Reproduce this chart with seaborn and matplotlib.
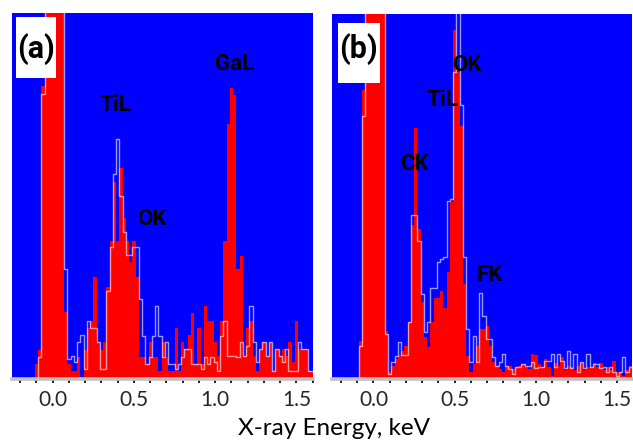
import numpy as np
import pandas as pd
import matplotlib
matplotlib.use("Agg")
import matplotlib.pyplot as plt
from matplotlib.patches import Rectangle
from matplotlib.ticker import MultipleLocator
import seaborn as sns

sns.set_style("white")
plt.rcParams['font.family'] = ['Lato', 'DejaVu Sans']

# ---------------- data (bin centres in keV, 0.02 keV channels) ----------------
energy_a = np.round(np.arange(-0.24, 1.6001, 0.02), 2)
energy_b = np.round(np.arange(-0.24, 1.5801, 0.02), 2)

# panel (a): red filled spectrum
red_a = [0, 0, 0, 0, 0, 0, 0,
         15, 29, 293, 900, 900, 900, 900, 900, 900,
         67, 15, 8, 8, 22, 2, 29, 51, 58, 102,
         37, 29, 37, 92, 138, 197, 138, 211, 161, 138,
         117, 138, 102, 22, 22, 15, 37, 22, 22, 8,
         37, 22, 8, 8, 51, 8, 37, 30, 44, 66,
         15, 51, 15, 73, 58, 58, 37, 23, 58, 138,
         255, 291, 284, 110, 123, 23, 51, 58, 23, 8,
         30, 37, 23, 37, 8, 30, 23, 30, 23, 37,
         17, 58, 30, 30, 30, 8, 8]
# panel (a): white outline spectrum
white_a = [0, 0, 0, 0, 0, 0, 0,
           0, 22, 285, 900, 900, 900, 900, 900, 900,
           110, 20, 23, 17, 37, 44, 10, 58, 51, 51,
           37, 10, 10, 88, 132, 205, 240, 183, 147, 124,
           124, 132, 132, 80, 43, 15, 22, 43, 73, 43,
           22, 37, 15, 15, 10, 15, 22, 30, 30, 15,
           15, 15, 10, 22, 15, 22, 17, 8, 43, 58,
           23, 23, 23, 22, 37, 23, 33, 73, 37, 17,
           30, 37, 23, 37, 8, 30, 23, 17, 30, 8,
           8, 8, 37, 30, 30, 8, 8]

# panel (b): red filled spectrum
red_b = [0, 0, 0, 0, 0, 0, 0,
         0, 38, 289, 900, 900, 900, 900, 900, 900,
         48, 7, 13, 20, 24, 28, 33, 57, 154, 251,
         150, 77, 42, 32, 57, 81, 81, 88, 71, 107,
         177, 349, 307, 253, 95, 23, 7, 15, 33, 50,
         50, 53, 33, 17, 13, 10, 7, 13, 13, 10,
         12, 13, 15, 12, 10, 25, 24, 15, 12, 20,
         12, 3, 16, 13, 22, 9, 13, 12, 9, 13,
         16, 9, 12, 12, 16, 12, 16, 9, 12, 9,
         18, 7, 7, 3, 9, 13]
# panel (b): white outline spectrum
white_b = [0, 0, 0, 0, 0, 0, 0,
           0, 33, 263, 900, 900, 900, 900, 900, 900,
           45, 5, 17, 23, 37, 24, 24, 57, 164, 164,
           138, 85, 47, 57, 91, 91, 117, 120, 122, 178,
           180, 307, 900, 274, 122, 50, 17, 43, 17, 86,
           63, 40, 40, 22, 13, 17, 25, 13, 10, 5,
           12, 12, 15, 13, 13, 17, 11, 12, 12, 18,
           18, 25, 12, 25, 18, 11, 28, 11, 25, 7,
           17, 11, 25, 12, 15, 15, 11, 12, 7, 12,
           7, 3, 7, 22, 7, 12]

tick_labels = ["0.0", "0.5", "1.0", "1.5"]
labels_a = ["TiL", "OK", "GaL"]
labels_b = ["CK", "TiL", "OK", "FK"]

W, H = 633, 440
fig = plt.figure(figsize=(W / 100, H / 100), dpi=100)
BOLD = ['Roboto', 'DejaVu Sans']


def px_axes(x0, y0, x1, y1):
    return fig.add_axes([x0 / W, 1 - y1 / H, (x1 - x0) / W, (y1 - y0) / H])


def draw_panel(ax, energy, red, white, xlim, ytop):
    edges = list(np.round(np.append(energy - 0.01, energy[-1] + 0.01), 3))
    df = pd.DataFrame({"energy": energy, "red": np.asarray(red, float),
                       "white": np.asarray(white, float)})
    ax.set_facecolor("#0000ff")
    sns.histplot(data=df, x="energy", weights="red", bins=edges, element="step",
                 fill=True, color="#ff0000", alpha=1, linewidth=0, ax=ax)
    sns.histplot(data=df, x="energy", weights="white", bins=edges, element="step",
                 fill=False, color="white", alpha=0.6, linewidth=1.0, ax=ax)
    ax.set_xlim(*xlim)
    ax.set_ylim(0, ytop)
    ax.set_ylabel("")
    ax.set_xlabel("")
    ax.set_yticks([])
    for s in ["top", "left", "right"]:
        ax.spines[s].set_visible(False)
    ax.spines["bottom"].set_color("#c0c0c0")
    ax.spines["bottom"].set_linewidth(2.6)
    ax.set_xticks([0.0, 0.5, 1.0, 1.5])
    ax.set_xticklabels(tick_labels)
    ax.xaxis.set_minor_locator(MultipleLocator(0.1))
    ax.tick_params(axis="x", which="both", direction="out", length=3.0,
                   width=1.2, color="black", pad=5.0, labelsize=15,
                   bottom=True)


ax_a = px_axes(12, 12.7, 313, 379.3)
draw_panel(ax_a, energy_a, red_a, white_a, (-0.2505, 1.602), 366.6)
ax_b = px_axes(331.7, 14, 632, 379.3)
draw_panel(ax_b, energy_b, red_b, white_b, (-0.257, 1.591), 365.3)


def ftext(x, y, s, **kw):
    fig.text(x / W, 1 - y / H, s, ha="center", va="center", **kw)


# panel label boxes
for (x0, y0, x1, y1, s) in [(16, 16.7, 56, 78.3, "(a)"), (337.7, 22.7, 380, 83.3, "(b)")]:
    fig.patches.append(Rectangle((x0 / W, 1 - y1 / H), (x1 - x0) / W, (y1 - y0) / H,
                                 transform=fig.transFigure, facecolor="white",
                                 edgecolor="none", zorder=5))
    ftext((x0 + x1) / 2, 49, s, fontsize=22, fontweight="bold", color="black",
          family=BOLD, zorder=6)

# peak labels
for (x, y, s) in [(115.5, 105, labels_a[0]), (152, 218.5, labels_a[1]), (234.5, 63.5, labels_a[2])]:
    ftext(x, y, s, fontsize=16, fontweight="bold", color="black", family=BOLD, zorder=6)
for (x, y, s) in [(414.5, 164, labels_b[0]), (442.5, 100, labels_b[1]),
                  (467, 65, labels_b[2]), (489.5, 275, labels_b[3])]:
    ftext(x, y, s, fontsize=16, fontweight="bold", color="black", family=BOLD, zorder=6)

ftext(334, 428, "X-ray Energy, keV", fontsize=17.5, color="black")

fig.savefig("out.png", dpi=100)
